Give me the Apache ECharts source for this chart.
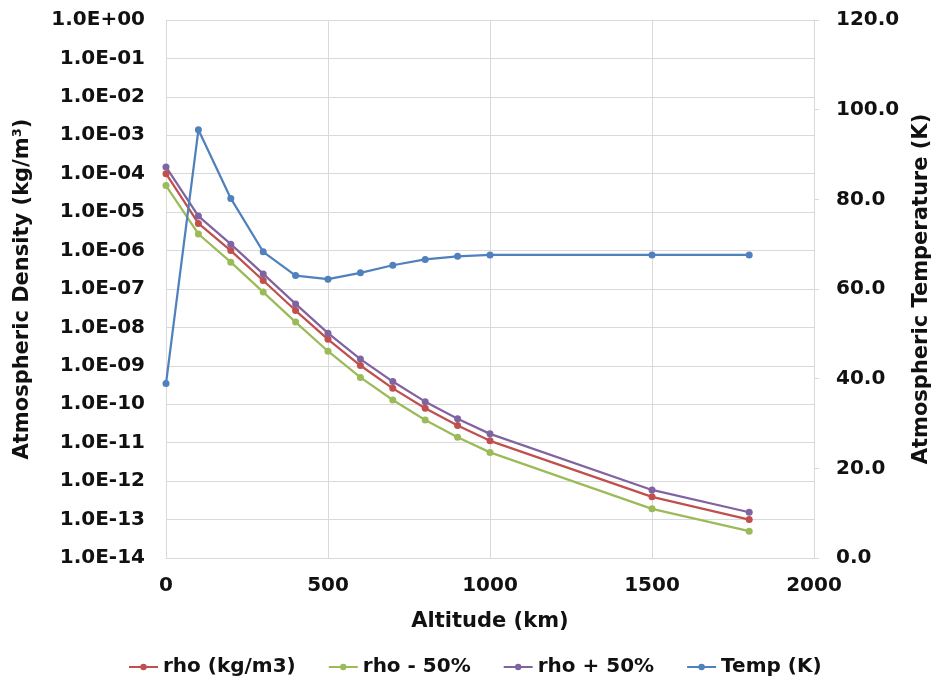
<!DOCTYPE html>
<html>
<head>
<meta charset="utf-8">
<script src="https://cdn.jsdelivr.net/npm/echarts@6.0.0/dist/echarts.min.js"></script>
<style>
  body { margin: 0; background: #fff; }
  #main { width: 940px; height: 687px; }
</style>
</head>
<body>
<div id="main"></div>
<script>
// altitude (km) for every point
const altitude = [0, 100, 200, 300, 400, 500, 600, 700, 800, 900, 1000, 1500, 1800];

// density series (kg/m3)
const rho      = [1.0e-4, 5.1e-6, 1.0e-6, 1.66e-7, 2.75e-8, 4.9e-9, 1.02e-9, 2.6e-10, 7.9e-11, 2.8e-11, 1.12e-11, 3.9e-13, 1.0e-13];
const rhoMinus = [4.9e-5, 2.7e-6, 5.0e-7, 8.3e-8, 1.38e-8, 2.4e-9, 5.0e-10, 1.29e-10, 3.9e-11, 1.38e-11, 5.6e-12, 1.9e-13, 5.0e-14];
const rhoPlus  = [1.5e-4, 7.9e-6, 1.47e-6, 2.47e-7, 4.1e-8, 7.1e-9, 1.5e-9, 3.9e-10, 1.17e-10, 4.2e-11, 1.7e-11, 5.9e-13, 1.55e-13];

// temperature (K), right axis
const temp = [38.9, 95.5, 80.2, 68.3, 63.0, 62.2, 63.6, 65.3, 66.6, 67.3, 67.6, 67.6, 67.6];

const seriesNames = ['rho (kg/m3)', 'rho - 50%', 'rho + 50%', 'Temp (K)'];
const colors = ['#c0504d', '#9bbb59', '#8064a2', '#4f81bd'];

const font = 'DejaVu Sans';
const gridColor = '#d9d9d9';

function pair(ys) {
    return altitude.map((x, i) => [x, ys[i]]);
}

// 1.0E-05 style labels
function expLabel(v) {
    const e = Math.round(Math.log10(v));
    const n = Math.abs(e);
    return '1.0E' + (e < 0 ? '-' : '+') + (n < 10 ? '0' + n : n);
}

function line(name, data, color, yIndex) {
    return {
        name: name,
        type: 'line',
        yAxisIndex: yIndex,
        data: data,
        symbol: 'circle',
        symbolSize: 7,
        color: color,
        lineStyle: { width: 2.25, color: color },
        itemStyle: { color: color }
    };
}

let chart = echarts.init(document.getElementById('main'));

let option = {
    animation: false,
    textStyle: { fontFamily: font },
    grid: { left: 166, right: 121, top: 20, bottom: 129 },
    legend: {
        data: seriesNames,
        left: 123,
        top: 652,
        itemWidth: 29,
        itemHeight: 8,
        itemGap: 32,
        textStyle: { fontFamily: font, fontSize: 20, fontWeight: 'bold', color: '#111' }
    },
    xAxis: {
        type: 'value',
        min: 0,
        max: 2000,
        interval: 500,
        name: 'Altitude (km)',
        nameLocation: 'middle',
        nameGap: 53,
        nameTextStyle: { fontFamily: font, fontSize: 21, fontWeight: 'bold', color: '#111' },
        axisLine: { lineStyle: { color: gridColor } },
        axisTick: { show: false },
        axisLabel: { formatter: v => String(v), fontFamily: font, fontSize: 20, fontWeight: 'bold', color: '#111', margin: 18 },
        splitLine: { lineStyle: { color: gridColor } }
    },
    yAxis: [
        {
            type: 'log',
            logBase: 10,
            min: 1e-14,
            max: 1,
            interval: 1,
            position: 'left',
            name: 'Atmospheric Density (kg/m³)',
            nameLocation: 'middle',
            nameGap: 133,
            nameTextStyle: { fontFamily: font, fontSize: 21, fontWeight: 'bold', color: '#111' },
            axisLine: { show: true, lineStyle: { color: gridColor } },
            axisTick: { show: false },
            axisLabel: { formatter: expLabel, fontFamily: font, fontSize: 20, fontWeight: 'bold', color: '#111', margin: 21 },
            splitLine: { lineStyle: { color: gridColor } }
        },
        {
            type: 'value',
            min: 0,
            max: 120,
            interval: 20,
            position: 'right',
            name: 'Atmospheric Temperature (K)',
            nameLocation: 'middle',
            nameGap: 97,
            nameTextStyle: { fontFamily: font, fontSize: 21, fontWeight: 'bold', color: '#111' },
            axisLine: { show: true, lineStyle: { color: gridColor } },
            axisTick: { show: true, length: 5, lineStyle: { color: gridColor } },
            axisLabel: { formatter: v => v.toFixed(1), fontFamily: font, fontSize: 20, fontWeight: 'bold', color: '#111', margin: 22 },
            splitLine: { show: false }
        }
    ],
    series: [
        line(seriesNames[0], pair(rho), colors[0], 0),
        line(seriesNames[1], pair(rhoMinus), colors[1], 0),
        line(seriesNames[2], pair(rhoPlus), colors[2], 0),
        line(seriesNames[3], pair(temp), colors[3], 1)
    ]
};

chart.setOption(option);
</script>
</body>
</html>
